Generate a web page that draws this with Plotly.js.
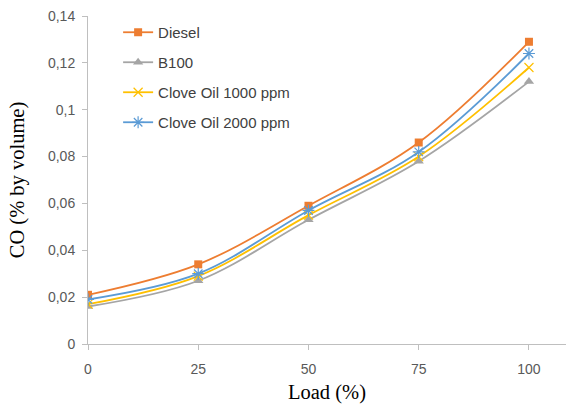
<!DOCTYPE html>
<html>
<head>
<meta charset="utf-8">
<script src="https://cdn.plot.ly/plotly-3.0.1.min.js"></script>
<style>html,body{margin:0;padding:0;background:#fff;}#chart{width:567px;height:404px;}</style>
</head>
<body>
<div id="chart"></div>
<script>
const load = [0, 25, 50, 75, 100];
const diesel = [0.021, 0.034, 0.059, 0.086, 0.129];
const b100 = [0.016, 0.027, 0.053, 0.078, 0.112];
const clove1000 = [0.017, 0.029, 0.055, 0.080, 0.118];
const clove2000 = [0.019, 0.030, 0.057, 0.082, 0.124];
const seriesNames = ["Diesel", "B100", "Clove Oil 1000 ppm", "Clove Oil 2000 ppm"];
const xTicks = [0, 25, 50, 75, 100];

function tr(name, y, color, symbol, size, lw) {
  return {
    x: load, y: y, name: name, type: 'scatter', mode: 'lines+markers',
    legendgroup: name,
    line: {color: color, width: 1.8, shape: 'spline', smoothing: 1},
    marker: {symbol: symbol, size: size, color: color, line: {color: color, width: lw}}
  };
}
const data = [
  tr(seriesNames[0], diesel, '#ED7D31', 'square', 8, 0),
  tr(seriesNames[1], b100, '#A5A5A5', 'triangle-up', 9, 0),
  tr(seriesNames[2], clove1000, '#FFC000', 'x-thin', 9, 1.2),
  tr(seriesNames[3], clove2000, '#5B9BD5', 'asterisk', 10, 1.2)
];
const layout = {
  width: 567, height: 404,
  margin: {l: 88, r: 1, t: 16, b: 60},
  separators: ', ',
  paper_bgcolor: '#fff', plot_bgcolor: '#fff',
  showlegend: true,
  legend: {x: 0.063, y: 1.0, xanchor: 'left', yanchor: 'top', bgcolor: 'rgba(0,0,0,0)',
           font: {family: 'Liberation Sans, Arial, sans-serif', size: 15, color: '#404040'},
           traceorder: 'grouped', tracegroupgap: 7.5, itemwidth: 30},
  xaxis: {
    range: [0, 108.4], tickvals: xTicks, ticktext: xTicks.map(String),
    showgrid: false, zeroline: false, showline: true, linecolor: '#BFBFBF', linewidth: 1,
    ticks: 'outside', ticklen: 5, tickcolor: '#BFBFBF', ticklabelstandoff: 7,
    tickfont: {family: 'Liberation Sans, Arial, sans-serif', size: 14, color: '#595959'},
    title: {text: 'Load (%)', font: {family: 'Liberation Serif, Times New Roman, serif', size: 20.5, color: '#000'}, standoff: 8}
  },
  yaxis: {
    range: [0, 0.14], dtick: 0.02, tick0: 0,
    showgrid: false, zeroline: false, showline: true, linecolor: '#BFBFBF', linewidth: 1,
    ticks: 'outside', ticklen: 5, tickcolor: '#BFBFBF', ticklabelstandoff: 4,
    tickfont: {family: 'Liberation Sans, Arial, sans-serif', size: 14, color: '#595959'},
    title: {text: 'CO (% by volume)', font: {family: 'Liberation Serif, Times New Roman, serif', size: 20.5, color: '#000'}, standoff: 17}
  }
};
Plotly.newPlot('chart', data, layout, {displayModeBar: false, staticPlot: true});
</script>
</body>
</html>
